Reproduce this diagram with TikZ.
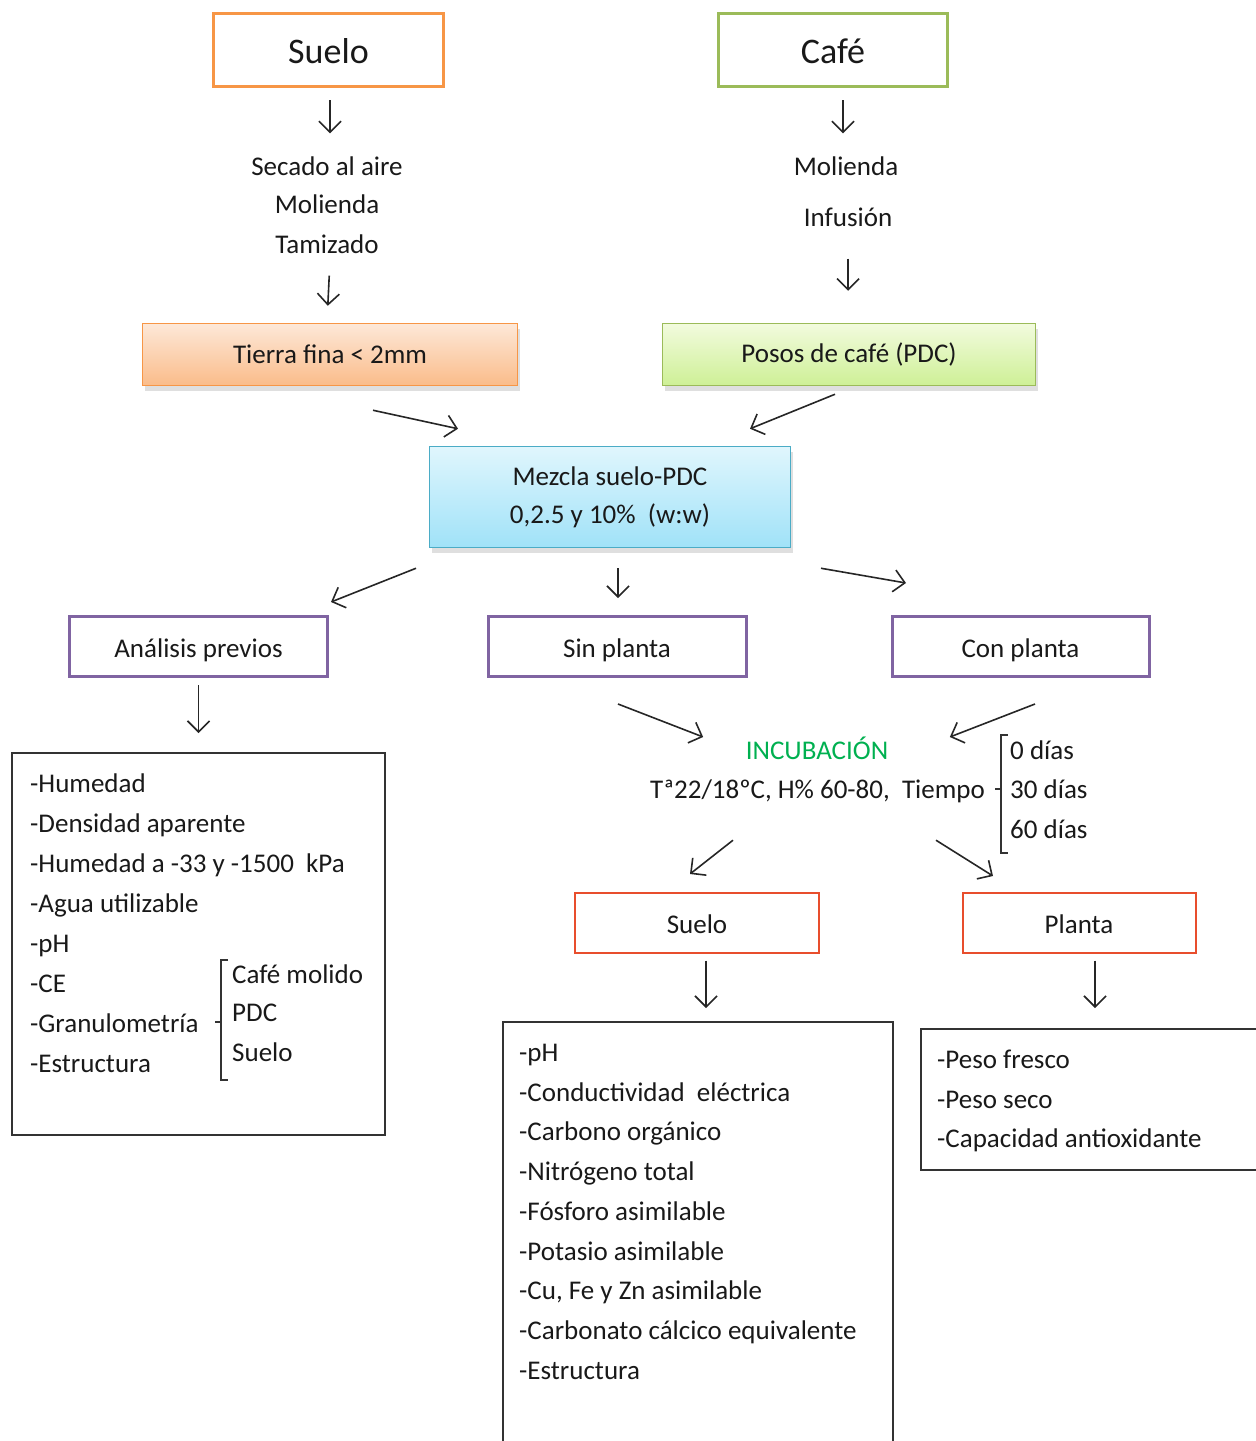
\documentclass[tikz,border=0pt]{standalone}
\usepackage{fontspec}
\setmainfont{Carlito}
\usetikzlibrary{arrows.meta,calc,shadows}

\definecolor{ink}{RGB}{25,25,25}
\definecolor{orangeS}{RGB}{247,150,70}
\definecolor{greenS}{RGB}{155,187,89}
\definecolor{blueS}{RGB}{75,172,198}
\definecolor{purpleS}{RGB}{128,100,162}
\definecolor{redS}{RGB}{232,78,45}
\definecolor{incubG}{RGB}{0,176,80}

\begin{document}
\begin{tikzpicture}[x=1pt,y=-1pt,
  fnt/.style={font=\fontsize{27}{33}\selectfont},
  lbl/.style={fnt,text=ink,inner sep=0pt,text height=19pt,text depth=6pt},
  item/.style={lbl,anchor=west},
  box/.style={draw,rectangle,inner sep=0pt,text=ink,fnt},
  lowtext/.style={text height=25pt,text depth=3pt},
  topbox/.style={box,line width=3pt,font=\fontsize{36}{43}\selectfont,
    text height=30pt,text depth=3pt},
  shaded/.style={box,line width=1.5pt,
    drop shadow={shadow xshift=2pt,shadow yshift=-5pt,opacity=0.25}},
  stagebox/.style={box,lowtext,draw=purpleS,line width=3pt},
  resbox/.style={box,lowtext,draw=redS,line width=2pt},
  listbox/.style={box,draw=black!80,line width=2pt},
  arr/.style={draw=black!85,line width=1.6pt,
    -{Straight Barb[length=11pt,width=22pt,line width=1.6pt]}},
  brk/.style={draw=black!80,line width=1.5pt}
]
\useasboundingbox (0,0) rectangle (1256,1441);
\clip (0,0) rectangle (1256,1441);

% --- raw materials ---
\node[topbox,draw=orangeS,minimum width=230pt,minimum height=73pt] (suelo) at (328.5,50) {Suelo};
\node[topbox,draw=greenS,minimum width=229pt,minimum height=73pt] (cafe) at (833,50) {Café};

\node[lbl] (secado) at (327,169) {Secado al aire};
\node[lbl] (molienda1) at (327,207) {Molienda};
\node[lbl] (tamizado) at (327,247) {Tamizado};

\node[lbl] (molienda2) at (846,169) {Molienda};
\node[lbl] (infusion) at (848,220) {Infusión};

% --- prepared materials ---
\node[shaded,draw=orangeS,top color={rgb,255:red,253;green,232;blue,216},
  bottom color={rgb,255:red,250;green,188;blue,138},
  minimum width=375pt,minimum height=62pt] (tierra) at (330,354.5) {Tierra fina < 2mm};
\node[shaded,draw=greenS,top color={rgb,255:red,242;green,251;blue,222},
  bottom color={rgb,255:red,206;green,240;blue,150},
  minimum width=373pt,minimum height=62pt] (posos) at (849,354.5) {Posos de café (PDC)};

\node[shaded,draw=blueS,top color={rgb,255:red,224;green,246;blue,253},
  bottom color={rgb,255:red,160;green,226;blue,248},
  minimum width=361pt,minimum height=101pt,align=center,
  font=\fontsize{27}{38}\selectfont] (mezcla) at (610,497) {Mezcla suelo-PDC\\0,2.5 y 10\%~ (w:w)};

% --- treatments ---
\node[stagebox,minimum width=258pt,minimum height=60pt] (analisis) at (198.5,646.5) {Análisis previos};
\node[stagebox,minimum width=258pt,minimum height=60pt] (sinplanta) at (617,646.5) {Sin planta};
\node[stagebox,minimum width=257pt,minimum height=60pt] (conplanta) at (1020.5,646.5) {Con planta};

% --- incubation ---
\node[lbl,text=incubG] (incub) at (817,752.5) {INCUBACIÓN};
\node[lbl] (cond) at (817.5,791.5) {Tª22/18ºC, H\% 60-80,~ Tiempo};
\node[item] (d0) at (1010,752.5) {0 días};
\node[item] (d30) at (1010,791.5) {30 días};
\node[item] (d60) at (1010,831.5) {60 días};
\draw[brk] (1008,735) -- (1001,735) -- (1001,853) -- (1008,853);
\draw[brk] (1001,789) -- (995,789);

\node[resbox,minimum width=244pt,minimum height=60pt] (suelor) at (697,922.5) {Suelo};
\node[resbox,minimum width=233pt,minimum height=60pt] (planta) at (1079,922.5) {Planta};

% --- list of analyses ---
\node[listbox,minimum width=373pt,minimum height=382pt] (listL) at (198.5,944) {};
\foreach \t [count=\i] in {-Humedad,-Densidad aparente,-Humedad a -33 y -1500~ kPa,
  -Agua utilizable,-pH,-CE,-Granulometría,-Estructura}
  \node[item] (lA\i) at (30,785.5+40*\i-40) {\t};
\node[item] (cm) at (232,976.5) {Café molido};
\node[item] (pdc) at (232,1014.5) {PDC};
\node[item] (sb) at (232,1054.5) {Suelo};
\draw[brk] (228,960) -- (221,960) -- (221,1080) -- (228,1080);
\draw[brk] (221,1022) -- (215,1022);

\node[listbox,minimum width=390pt,minimum height=438pt] (listM) at (697.5,1241) {};
\foreach \t [count=\i] in {-pH,-Conductividad~ eléctrica,-Carbono orgánico,-Nitrógeno total,
  -Fósforo asimilable,-Potasio asimilable,{-Cu, Fe y Zn asimilable},
  -Carbonato cálcico equivalente,-Estructura}
  \node[item] (lB\i) at (519,1055+39.7*\i-39.7) {\t};

\node[listbox,minimum width=340pt,minimum height=141pt] (listR) at (1091,1099.5) {};
\foreach \t [count=\i] in {-Peso fresco,-Peso seco,-Capacidad antioxidante}
  \node[item] (lC\i) at (937,1062+39.5*\i-39.5) {\t};

% --- connectors ---
\draw[arr,shorten <=12pt,shorten >=23pt] ($(suelo.south)+(1.5,0)$) -- ($(secado.north)+(3,0)$);
\draw[arr,shorten <=16pt,shorten >=17pt] ($(tamizado.south)+(3,0)$) -- (tamizado.south |- tierra.north);
\draw[arr,shorten <=12pt,shorten >=23pt] ($(cafe.south)+(10,0)$) -- ($(molienda2.north)+(-3,0)$);
\draw[arr,shorten <=26pt,shorten >=32pt] (infusion.south) -- (infusion.south |- posos.north);

\draw[arr] ($(tierra.south)+(43,24)$) -- ($(mezcla.north)+(-152,-17)$);
\draw[arr] ($(posos.south)+(-14,8)$) -- ($(mezcla.north)+(140,-17)$);

\draw[arr] ($(mezcla.south)+(-194,20)$) -- ($(analisis.north)+(132.5,-13)$);
\draw[arr] ($(mezcla.south)+(8,20)$) -- ($(sinplanta.north)+(1,-17)$);
\draw[arr] ($(mezcla.south)+(211,20)$) -- ($(conplanta.north)+(-114.5,-32)$);

\draw[arr,shorten <=7pt,shorten >=19pt] (analisis.south) -- (analisis.south |- listL.north);

\draw[arr] ($(sinplanta.south)+(1,26)$) -- ($(incub.west)+(-42.5,-15.5)$);
\draw[arr] ($(conplanta.south)+(14.5,26)$) -- ($(incub.east)+(61.5,-15.5)$);

\draw[arr] ($(cond.south)+(-84.5,36)$) -- ($(suelor.north)+(-7,-17.5)$);
\draw[arr] ($(cond.south)+(118.5,36)$) -- ($(planta.north)+(-86,-15.5)$);

\draw[arr] ($(suelor.south)+(9,7)$) -- ($(listM.north)+(8.5,-13)$);
\draw[arr] ($(planta.south)+(16,7)$) -- ($(listR.north)+(4,-20)$);
\end{tikzpicture}
\end{document}
